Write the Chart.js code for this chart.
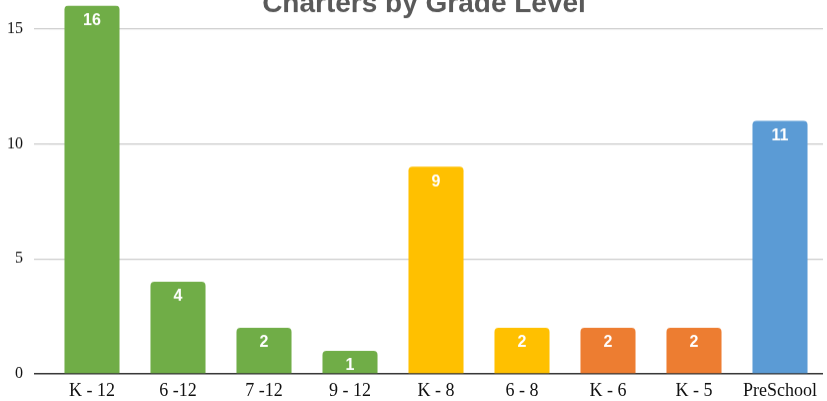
<!DOCTYPE html>
<html>
<head>
<meta charset="utf-8">
<script src="https://cdn.jsdelivr.net/npm/chart.js@4/dist/chart.umd.min.js"></script>
<style>
  html, body { margin: 0; padding: 0; background: #fff; }
  #frame { width: 827px; height: 401px; position: relative; overflow: hidden; }
  /* the reference is cropped: plot sits slightly off the top/left edge */
  #wrap { position: absolute; left: -11px; top: -15px; width: 838px; height: 423.5px; }
</style>
</head>
<body>
<div id="frame"><div id="wrap"><canvas id="chart"></canvas></div></div>
<script>
// Chart data
var title = "Charters by Grade Level";
var grades = ["K - 12", "6 -12", "7 -12", "9 - 12", "K - 8", "6 - 8", "K - 6", "K - 5", "PreSchool"];
var charters = [16, 4, 2, 1, 9, 2, 2, 2, 11];
var barColors = ["#70ad47", "#70ad47", "#70ad47", "#70ad47", "#ffc000", "#ffc000", "#ed7d31", "#ed7d31", "#5b9bd5"];
var yTicks = [0, 5, 10, 15];

var serif = "'Liberation Serif', 'Times New Roman', serif";

//--------------------------------------------------------------------
// * white value on top of each bar
//--------------------------------------------------------------------
var barValues = {
    id: 'barValues',
    afterDatasetsDraw: function(chart) {
        var ctx = chart.ctx;
        var meta = chart.getDatasetMeta(0);
        ctx.save();
        ctx.fillStyle = '#ffffff';
        ctx.font = "bold 16px 'Liberation Sans', Arial, sans-serif";
        ctx.textAlign = 'center';
        ctx.textBaseline = 'middle';
        meta.data.forEach(function(bar, i) {
            ctx.fillText(chart.data.datasets[0].data[i], bar.x, bar.y + 15);
        });
        ctx.restore();
    }
};

//--------------------------------------------------------------------
// * title sits partly off the top edge, over the plot
//--------------------------------------------------------------------
var chartTitle = {
    id: 'chartTitle',
    afterDraw: function(chart) {
        var ctx = chart.ctx;
        ctx.save();
        ctx.fillStyle = '#595959';
        ctx.font = "bold 28px 'Liberation Sans', Arial, sans-serif";
        ctx.textAlign = 'center';
        ctx.textBaseline = 'alphabetic';
        ctx.fillText(title, chart.width / 2 + 16, 26.5);
        ctx.restore();
    }
};

var ctx = document.getElementById('chart').getContext('2d');
var chart = new Chart(ctx, {
    type: 'bar',
    data: {
        labels: grades,
        datasets: [{
            data: charters,
            backgroundColor: barColors,
            borderRadius: 4,
            borderSkipped: 'start',
            barPercentage: 0.64,
            categoryPercentage: 1
        }]
    },
    options: {
        responsive: true,
        maintainAspectRatio: false,
        animation: false,
        layout: { padding: { top: 4, left: 7, right: 4, bottom: 0 } },
        plugins: {
            legend: { display: false },
            title: { display: false },
            tooltip: { enabled: false }
        },
        scales: {
            x: {
                grid: { display: false, drawTicks: false },
                border: { display: false },
                ticks: {
                    color: '#111',
                    padding: 7,
                    font: { family: serif, size: 18 }
                }
            },
            y: {
                min: 0,
                max: 16,
                afterBuildTicks: function(axis) {
                    axis.ticks = yTicks.map(function(v) { return { value: v }; });
                },
                border: { display: false },
                grid: {
                    drawTicks: true,
                    tickLength: 15,
                    color: function(c) { return c.tick && c.tick.value === 0 ? '#333333' : '#cccccc'; },
                    lineWidth: function(c) { return c.tick && c.tick.value === 0 ? 1.5 : 1.2; }
                },
                ticks: {
                    color: '#111',
                    padding: 11,
                    font: { family: serif, size: 16 }
                }
            }
        }
    },
    plugins: [barValues, chartTitle]
});
</script>
</body>
</html>
